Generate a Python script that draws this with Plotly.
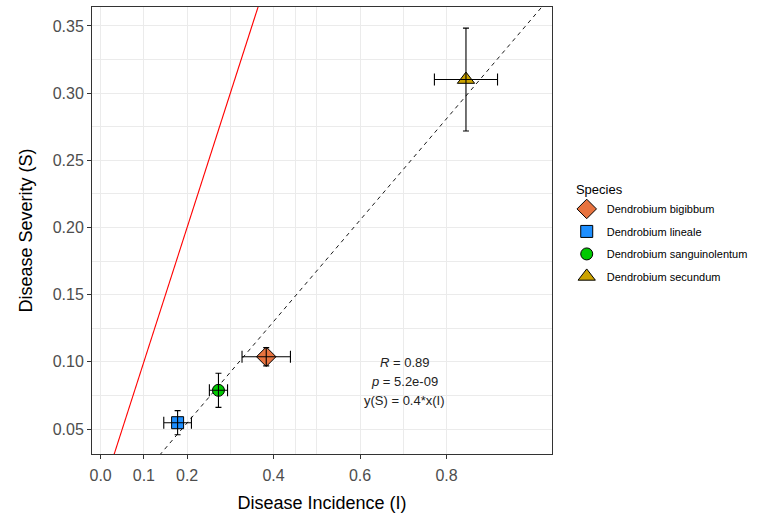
import plotly.graph_objects as go

species = ["Dendrobium bigibbum", "Dendrobium lineale",
           "Dendrobium sanguinolentum", "Dendrobium secundum"]
incidence = [0.383, 0.178, 0.2725, 0.845]
incidence_err = [0.056, 0.032, 0.021, 0.073]
severity = [0.1038, 0.0547, 0.0788, 0.3101]
severity_err = [0.0068, 0.009, 0.0127, 0.0383]
symbols = ["diamond", "square", "circle", "triangle-up"]
sizes = [15, 12, 12, 15]
fills = ["#E8733F", "#1E8FFF", "#00C800", "#CCA300"]

x_ticks = [0.0, 0.1, 0.2, 0.4, 0.6, 0.8]
x_ticktext = ["0.0", "0.1", "0.2", "0.4", "0.6", "0.8"]
x_minor = [0.3, 0.45, 0.5, 0.7]
y_ticks = [0.05, 0.10, 0.15, 0.20, 0.25, 0.30, 0.35]

fit_slope = 0.3773
fit_intercept = -0.0209
x_range = [-0.02, 1.044]
y_range = [0.0314, 0.3641]

stats_lines = ["<i>R</i> = 0.89", "<i>p</i> = 5.2e-09", "y(S) = 0.4*x(I)"]

fig = go.Figure()

# 1:1 line
line_x = [x_range[0], x_range[1]]
fig.add_trace(go.Scatter(x=line_x, y=line_x, mode="lines",
                         line=dict(color="red", width=1.1), showlegend=False,
                         hoverinfo="skip"))
# fitted dashed line
fig.add_trace(go.Scatter(x=line_x, y=[fit_intercept + fit_slope * v for v in line_x],
                         mode="lines", line=dict(color="black", width=0.9, dash="4px,4px"),
                         showlegend=False, hoverinfo="skip"))

for i, sp in enumerate(species):
    fig.add_trace(go.Scatter(
        x=[incidence[i]], y=[severity[i]], mode="markers", name=sp,
        legendgroup=sp,
        marker=dict(symbol=symbols[i], size=sizes[i], color=fills[i],
                    line=dict(color="black", width=1)),
    ))

# error bars drawn on top of the points
for i, sp in enumerate(species):
    fig.add_trace(go.Scatter(
        x=[incidence[i]], y=[severity[i]], mode="markers", showlegend=False,
        legendgroup=sp,
        marker=dict(size=1, color="rgba(0,0,0,0)"),
        error_x=dict(type="data", array=[incidence_err[i]], color="black",
                     thickness=1.1, width=6),
        error_y=dict(type="data", array=[severity_err[i]], color="black",
                     thickness=1.1, width=3),
        hoverinfo="skip",
    ))

for k, t in enumerate(stats_lines):
    fig.add_annotation(x=0.703, y=0.0852, xref="x", yref="y", text=t,
                       showarrow=False, yshift=19 - 19 * k,
                       font=dict(size=13, color="#222222",
                                 family="Liberation Sans, Arial, sans-serif"))

fig.update_layout(
    width=772, height=513,
    margin=dict(l=92, r=220, t=7, b=59, autoexpand=False),
    paper_bgcolor="white", plot_bgcolor="white",
    font=dict(family="Liberation Sans, Arial, sans-serif", color="black"),
    legend=dict(
        title=dict(text="\u00a0\u00a0Species", font=dict(size=13, color="black")),
        font=dict(size=11, color="black"),
        x=1.032, xanchor="left", y=0.6185, yanchor="top",
        tracegroupgap=3.5, bgcolor="rgba(0,0,0,0)",
    ),
    showlegend=True,
)

fig.update_xaxes(
    range=x_range, tickvals=x_ticks, ticktext=x_ticktext, automargin=False,
    showgrid=True, gridcolor="#EBEBEB", gridwidth=1,
    minor=dict(tickvals=x_minor, showgrid=True, gridcolor="#EBEBEB", gridwidth=1, ticks=""),
    zeroline=False, showline=True, linecolor="#333333", linewidth=1, mirror=True,
    ticks="outside", ticklen=4, tickcolor="#333333", tickwidth=1,
    ticklabelstandoff=3,
    tickfont=dict(size=16, color="#4D4D4D"),
    title=dict(text="Disease Incidence (I)", font=dict(size=18, color="black")),
)
fig.update_yaxes(
    range=y_range, tickvals=y_ticks, tickformat=".2f", automargin=False,
    showgrid=True, gridcolor="#EBEBEB", gridwidth=1,
    minor=dict(dtick=0.025, tick0=0.025, showgrid=True, gridcolor="#EBEBEB", gridwidth=1, ticks=""),
    zeroline=False, showline=True, linecolor="#333333", linewidth=1, mirror=True,
    ticks="outside", ticklen=4, tickcolor="#333333", tickwidth=1,
    tickfont=dict(size=16, color="#4D4D4D"),
    title=dict(text="Disease Severity (S)", font=dict(size=18, color="black")),
)

fig.write_html("out.html", config={"displayModeBar": False},
               post_script="document.body.style.margin='0px';")
